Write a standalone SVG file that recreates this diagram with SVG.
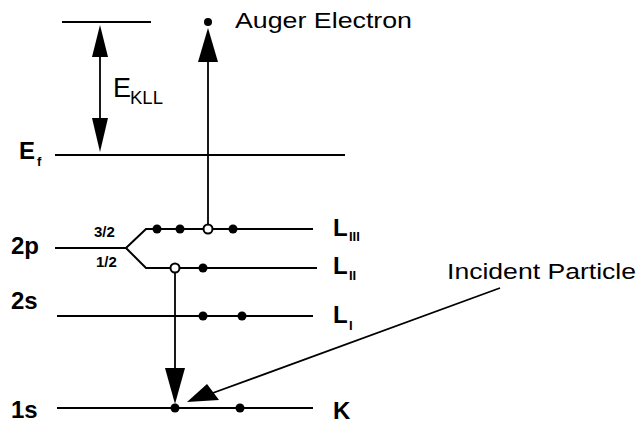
<svg xmlns="http://www.w3.org/2000/svg" width="640" height="425" viewBox="0 0 640 425">
<style>
.lvl{stroke:#000;stroke-width:2;fill:none}
.ln{stroke:#000;stroke-width:1.8;fill:none}
.head{fill:#000;stroke:none}
.dot{fill:#000}
.hole{fill:#fff;stroke:#000;stroke-width:2}
text{font-family:"Liberation Sans",Arial,sans-serif;fill:#000}
.b{font-weight:bold;font-size:24px}
.sub{font-weight:bold;font-size:13px}
.lab{font-size:22px}
.frac{font-weight:bold;font-size:15px}
</style>
<rect width="640" height="425" fill="#fff"/>
<g id="levels">
<line class="lvl" x1="62" y1="22" x2="151" y2="22"/>
<line class="lvl" x1="55" y1="155" x2="345" y2="155"/>
<polyline class="lvl" points="55,248 126,248 146,229 313,229"/>
<polyline class="lvl" points="126,248 146,268 317,268"/>
<line class="lvl" x1="57" y1="316" x2="313" y2="316"/>
<line class="lvl" x1="57" y1="408" x2="313" y2="408"/>
</g>
<g id="connectors">
<line class="ln" x1="100" y1="50" x2="100" y2="125" stroke-width="2.2"/>
<polygon class="head" points="100,25 92,57 108,57"/>
<polygon class="head" points="100,152 92,118 108,118"/>
<line class="ln" x1="208" y1="60" x2="208" y2="224"/>
<polygon class="head" points="208,28 198,62 218,62"/>
<line class="ln" x1="175" y1="273" x2="175" y2="372"/>
<polygon class="head" points="175,404 165,368 185,368"/>
<line class="ln" x1="500" y1="288" x2="210" y2="394"/>
<polygon class="head" points="187,402 207,384 219,400"/>
</g>
<g id="electrons">
<circle class="dot" cx="208" cy="22" r="4"/>
<circle class="dot" cx="157" cy="229" r="4.5"/>
<circle class="dot" cx="180" cy="229" r="4.5"/>
<circle class="hole" cx="208" cy="229" r="4.5"/>
<circle class="dot" cx="233" cy="229" r="4.5"/>
<circle class="hole" cx="175" cy="268" r="4.5"/>
<circle class="dot" cx="203" cy="268" r="4.5"/>
<circle class="dot" cx="203" cy="316" r="4.5"/>
<circle class="dot" cx="242" cy="316" r="4.5"/>
<circle class="dot" cx="175" cy="408" r="4.5"/>
<circle class="dot" cx="240" cy="408" r="4.5"/>
</g>
<g id="labels">
<text class="lab" x="235" y="28" textLength="177" lengthAdjust="spacingAndGlyphs">Auger Electron</text>
<text class="lab" x="447" y="279" textLength="189" lengthAdjust="spacingAndGlyphs">Incident Particle</text>
<text x="113" y="97" font-size="27">E</text>
<text x="130" y="104" font-size="18" textLength="33" lengthAdjust="spacingAndGlyphs">KLL</text>
<text class="b" x="19" y="159">E</text>
<text class="sub" x="37" y="166">f</text>
<text class="b" x="11" y="254">2p</text>
<text class="b" x="11" y="309">2s</text>
<text class="b" x="11" y="418">1s</text>
<text class="frac" x="94" y="237">3/2</text>
<text class="frac" x="96" y="267">1/2</text>
<text class="b" x="333" y="236">L</text>
<text class="sub" x="349" y="241">III</text>
<text class="b" x="333" y="274">L</text>
<text class="sub" x="349" y="280">II</text>
<text class="b" x="333" y="323">L</text>
<text class="sub" x="349" y="330">I</text>
<text class="b" x="333" y="419" font-size="26">K</text>
</g>
</svg>
